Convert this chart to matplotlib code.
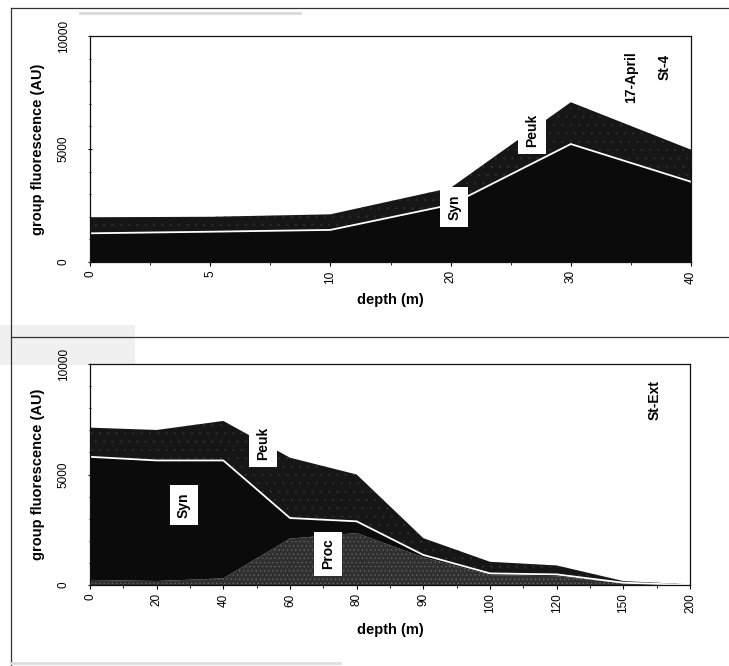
import matplotlib
matplotlib.use("Agg")
import matplotlib.pyplot as plt
import numpy as np
from matplotlib.lines import Line2D
from matplotlib.patches import Rectangle

plt.rcParams['font.family'] = ['Liberation Sans', 'DejaVu Sans']
plt.rcParams['hatch.linewidth'] = 0.4

# ---- top panel (St-4, 17-April) ----
top_depth = ["0", "5", "10", "20", "30", "40"]
top_syn = [1270, 1340, 1420, 2530, 5220, 3550]          # cumulative top of Syn
top_total = [1980, 2000, 2110, 3280, 7070, 4970]        # cumulative top of Peuk

# ---- bottom panel (St-Ext) ----
bot_depth = ["0", "20", "40", "60", "80", "90", "100", "120", "150", "200"]
bot_proc = [230, 180, 300, 2100, 2350, 1250, 450, 400, 80, 10]
bot_syn_cum = [5800, 5636, 5636, 3030, 2880, 1360, 525, 480, 105, 0]
bot_total = [7120, 7015, 7424, 5760, 5000, 2120, 1050, 885, 180, 30]

yticks = [0, 5000, 10000]

fig = plt.figure(figsize=(7.29, 6.66), dpi=100)

C_PEUK = '#161616'
C_SYN = '#0b0b0b'
C_PROC = '#303030'


def style_axes(ax, labels):
    n = len(labels)
    ax.set_xlim(0, n - 1)
    ax.set_ylim(0, 10000)
    ax.set_xticks(range(n))
    ax.set_xticklabels(labels, rotation=90, fontsize=8.5)
    ax.set_xticks(np.arange(0.5, n - 1, 1.0), minor=True)
    ax.set_yticks(yticks)
    ax.set_yticklabels([str(v) for v in yticks], rotation=90, fontsize=8.5)
    for t in ax.get_yticklabels():
        t.set_va('center')
    ax.set_yticks(np.arange(0, 10001, 1000), minor=True)
    ax.tick_params(axis='x', which='major', length=3, width=0.8, pad=3, direction='out')
    ax.tick_params(axis='x', which='minor', length=2, width=0.6, direction='out')
    ax.tick_params(axis='y', which='major', length=3, width=0.8, pad=13, direction='inout')
    ax.tick_params(axis='y', which='minor', length=2, width=0.6, direction='inout')
    for s in ax.spines.values():
        s.set_linewidth(0.9)
        s.set_color('#111111')
    ax.set_xlabel('depth (m)', fontsize=10.5, fontweight='bold', labelpad=7)
    ax.set_ylabel('group fluorescence (AU)', fontsize=10.5, fontweight='bold', labelpad=9)


def label(ax, x, y, s, box=True, size=10):
    kw = dict(rotation=90, ha='center', va='center', fontsize=size, fontweight='bold', color='black')
    if box:
        kw['bbox'] = dict(facecolor='white', edgecolor='none', pad=5)
    ax.text(x, y, s, **kw)


# top axes
ax1 = fig.add_axes([90 / 729, 1 - 262 / 666, 601 / 729, 226 / 666])
x1 = np.arange(len(top_depth))
ax1.fill_between(x1, 0, top_syn, facecolor=C_SYN, edgecolor='none', lw=0)
ax1.fill_between(x1, top_syn, top_total, facecolor=C_PEUK, edgecolor='#2e2e2e',
                 hatch='..', lw=0)
ax1.plot(x1, top_syn, color='white', lw=1.3)
style_axes(ax1, top_depth)
label(ax1, 3.03, 2430, 'Syn')
label(ax1, 3.68, 5840, 'Peuk')
label(ax1, 4.5, 8190, '17-April', box=False)
label(ax1, 4.78, 8630, 'St-4', box=False)

# bottom axes
ax2 = fig.add_axes([90 / 729, 1 - 585 / 666, 600 / 729, 221 / 666])
x2 = np.arange(len(bot_depth))
ax2.fill_between(x2, 0, bot_proc, facecolor=C_PROC, edgecolor='#6a6a6a',
                 hatch='....', lw=0)
ax2.fill_between(x2, bot_proc, bot_syn_cum, facecolor=C_SYN, edgecolor='none', lw=0)
ax2.fill_between(x2, bot_syn_cum, bot_total, facecolor=C_PEUK, edgecolor='#2e2e2e',
                 hatch='..', lw=0)
ax2.plot(x2, bot_syn_cum, color='white', lw=1.3)
style_axes(ax2, bot_depth)
label(ax2, 1.41, 3620, 'Syn')
label(ax2, 2.6, 6425, 'Peuk')
label(ax2, 3.57, 1400, 'Proc')
label(ax2, 8.47, 8370, 'St-Ext', box=False)

# scanned page frame
fig.add_artist(Rectangle((0, 1 - 365 / 666), 135 / 729, 40 / 666, transform=fig.transFigure,
                         facecolor='#f0f0f0', edgecolor='none', zorder=0))
fig.add_artist(Line2D([11 / 729, 11 / 729], [0, 1 - 8 / 666], transform=fig.transFigure,
                      color='#333333', lw=0.9))
fig.add_artist(Line2D([11 / 729, 1], [1 - 8 / 666, 1 - 8 / 666], transform=fig.transFigure,
                      color='#333333', lw=0.9))
fig.add_artist(Line2D([11 / 729, 1], [1 - 337 / 666, 1 - 337 / 666], transform=fig.transFigure,
                      color='#333333', lw=0.9))
fig.add_artist(Line2D([80 / 729, 300 / 729], [1 - 13 / 666, 1 - 13 / 666], transform=fig.transFigure,
                      color='#d8d8d8', lw=2.0))
fig.add_artist(Line2D([11 / 729, 340 / 729], [1 - 663 / 666, 1 - 663 / 666], transform=fig.transFigure,
                      color='#dddddd', lw=2.0))

fig.savefig('out.png', dpi=100)
